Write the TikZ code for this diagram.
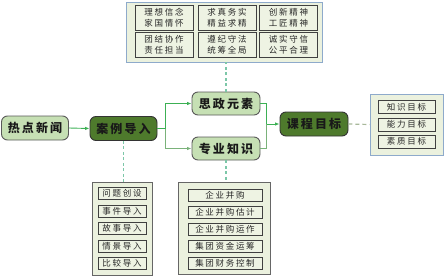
\documentclass[tikz,border=0pt]{standalone}
\usepackage{fontspec}
\newfontfamily\cjkmain[LetterSpace=18]{Noto Sans CJK SC}
\newfontfamily\cjkcell[LetterSpace=20]{Noto Sans CJK SC}
\usetikzlibrary{arrows.meta,calc}
\definecolor{lightg}{HTML}{C6E0B4}
\definecolor{darkg}{HTML}{4E7A2C}
\definecolor{panelfill}{HTML}{EBF1DE}
\definecolor{cellfill}{HTML}{EEF3E3}
\definecolor{bluebd}{HTML}{8EAACB}
\definecolor{arrowg}{HTML}{3CB054}
\definecolor{arrowg2}{HTML}{7AB27A}
\definecolor{dashteal}{HTML}{7CC7A8}
\definecolor{dashgray}{HTML}{A8B89A}
\tikzset{
  mainbox/.style={draw=black!65, line width=0.9pt, rounded corners=6pt, fill=lightg,
    minimum width=67pt, minimum height=24pt, inner sep=0pt,
    font=\cjkmain\bfseries\fontsize{12}{12}\selectfont, text=black!90},
  darkbox/.style={mainbox, fill=darkg, draw=black!80},
  bluepanel/.style={draw=bluebd, line width=0.9pt, fill=panelfill, inner sep=0pt},
  graypanel/.style={draw=black!60, line width=0.8pt, fill=panelfill, inner sep=0pt},
  cellbox/.style={draw=black!75, line width=0.8pt, fill=cellfill, inner sep=0pt,
    font=\cjkcell\fontsize{8.5}{11}\selectfont, text=black!85, align=center},
  conn/.style={draw=arrowg, line width=0.9pt},
  tip/.style={-{Latex[length=4.5pt,width=3.5pt]}},
  dashv/.style={draw=dashteal, line width=1.2pt, dash pattern=on 3pt off 2.5pt},
  dashh/.style={draw=dashgray, line width=1.2pt, dash pattern=on 4pt off 3pt},
}
\begin{document}
\begin{tikzpicture}[x=1pt,y=-1pt]
\useasboundingbox (0,0) rectangle (446,278);

% main nodes
\node[mainbox] (rd) at (35,128) {热点新闻};
\node[darkbox] (al) at (123.5,128.5) {案例导入};
\node[mainbox, minimum width=68pt, minimum height=23pt] (sz) at (226,103.5) {思政元素};
\node[mainbox, minimum width=68pt, minimum height=23pt] (zs) at (226,148.5) {专业知识};
\node[darkbox, minimum width=68pt] (kc) at (314,124) {课程目标};

% top panel
\node[bluepanel, minimum width=196pt, minimum height=60pt] (top) at (224,32) {};
\foreach \n/\x/\y/\t in {
  t1/164/17.5/{理想信念\\家国情怀}, t2/227/17.5/{求真务实\\精益求精}, t3/288.5/17.5/{创新精神\\工匠精神},
  t4/164/44.5/{团结协作\\责任担当}, t5/227/44.5/{遵纪守法\\统筹全局}, t6/288.5/44.5/{诚实守信\\公平合理}}
  \node[cellbox, minimum width=58pt, minimum height=25pt] (\n) at (\x,\y) {\t};

% right panel
\node[bluepanel, minimum width=73pt, minimum height=61pt] (rp) at (406.5,124.5) {};
\foreach \n/\y/\t in {r1/107/知识目标, r2/124.5/能力目标, r3/141.5/素质目标}
  \node[cellbox, minimum width=57pt, minimum height=13pt] (\n) at (406.5,\y) {\t};

% bottom-left panel
\node[graypanel, minimum width=60pt, minimum height=93pt] (bl) at (122,228.5) {};
\foreach \n/\y/\t in {l1/193.5/问题创设, l2/211/事件导入, l3/228.5/故事导入, l4/246/情景导入, l5/263/比较导入}
  \node[cellbox, minimum width=48pt, minimum height=12pt] (\n) at (122,\y) {\t};

% bottom-middle panel
\node[graypanel, minimum width=92pt, minimum height=92pt] (bm) at (224,228) {};
\foreach \n/\y/\t in {m1/195.5/企业并购, m2/212/企业并购估计, m3/229/企业并购运作, m4/246.5/集团资金运筹, m5/263/集团财务控制}
  \node[cellbox, minimum width=74pt, minimum height=12pt] (\n) at (225,\y) {\t};

% connectors
\draw[conn, tip] (rd.east) -- (al.west);
\coordinate (b1) at ($(al.east)+(8,0)$);
\draw[conn] (al.east) -- (b1);
\draw[conn, tip] (b1) |- (sz.west);
\draw[conn, draw=arrowg2, tip] (b1) |- (zs.west);
\coordinate (j) at ($(kc.west)+(-13,0)$);
\draw[conn] (sz.east) -| (j);
\draw[conn, draw=arrowg2] (zs.east) -| (j);
\draw[conn, tip] (j) -- (kc.west);

% dashed links
\draw[dashv] (sz.north) -- (sz.north |- top.south);
\draw[dashv] (zs.south) -- (zs.south |- bm.north);
\draw[dashv] (al.south) -- (al.south |- bl.north);
\draw[dashh] (kc.east) -- (rp.west);
\end{tikzpicture}
\end{document}
